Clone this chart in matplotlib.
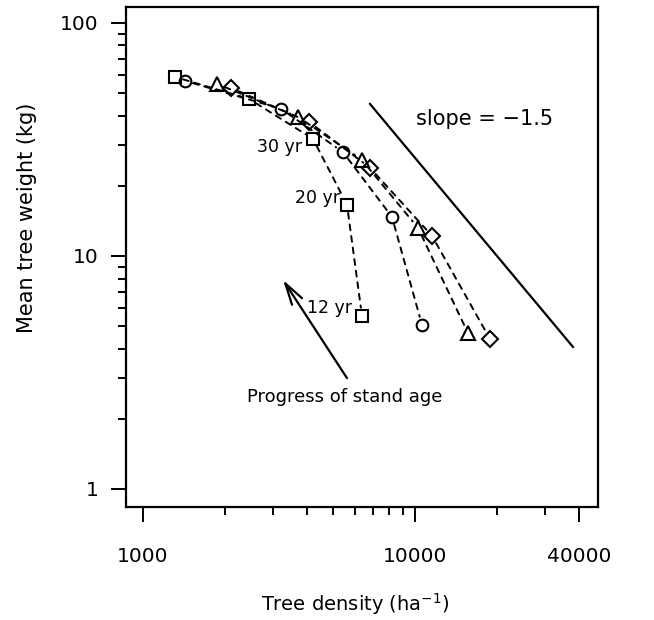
import matplotlib
matplotlib.use("Agg")
import matplotlib.pyplot as plt
from matplotlib.ticker import FixedLocator, NullFormatter

plt.rcParams['font.family'] = ['DejaVu Sans']

# stand density (ha^-1) and mean tree weight (kg) for four stands
sq_x = [1311, 2453, 4217, 5623, 6384]
sq_y = [58.6, 47.2, 31.8, 16.6, 5.53]
ci_x = [1426, 3216, 5436, 8230, 10610]
ci_y = [56.4, 42.8, 27.9, 14.7, 5.06]
tr_x = [1871, 3713, 6384, 10257, 15660]
tr_y = [54.7, 39.5, 25.8, 13.2, 4.67]
di_x = [2106, 4077, 6832, 11548, 18870]
di_y = [52.6, 37.6, 23.9, 12.2, 4.40]

# reference line (slope -1.5)
slope_x = [6832, 38100]
slope_y = [44.9, 4.07]

age_labels = ["30 yr", "20 yr", "12 yr"]
age_x = [3842, 5300, 5863]
age_y = [29.4, 17.7, 5.98]

x_major = [1000, 10000, 40000]
x_minor = [2000, 3000, 4000, 5000, 6000, 7000, 8000, 9000, 20000, 30000]
y_major = [1, 10, 100]
y_minor = [2, 3, 4, 5, 6, 7, 8, 9, 20, 30, 40, 50, 60, 70, 80, 90]

fig = plt.figure(figsize=(6.54, 6.2), dpi=100)
ax = fig.add_axes([0.1927, 0.1823, 0.7217, 0.8064])

series = [(sq_x, sq_y, 's', 8.8), (ci_x, ci_y, 'o', 8.4),
          (tr_x, tr_y, '^', 10.5), (di_x, di_y, 'D', 7.8)]
for xs, ys, m, ms in series:
    # dashed segments that stop short of the symbols (like R type="b")
    for i in range(len(xs) - 1):
        ax.annotate("", xy=(xs[i + 1], ys[i + 1]), xytext=(xs[i], ys[i]),
                    arrowprops=dict(arrowstyle='-', color='black', lw=1.4,
                                    linestyle=(0, (3, 3)), shrinkA=6, shrinkB=6))
    ax.plot(xs, ys, ls='none', marker=m, ms=ms, mfc='none', mec='black',
            mew=1.5, zorder=3)

ax.plot(slope_x, slope_y, color='black', lw=1.6)
ax.text(18080, 38.7, "slope = \u22121.5", ha='center', va='center', fontsize=15)

for lab, x, y in zip(age_labels, age_x, age_y):
    ax.text(x, y, lab, ha='right', va='center', fontsize=12.5)

ax.annotate("", xy=(3271, 7.89), xytext=(5623, 2.99),
            arrowprops=dict(arrowstyle='->,head_length=1.55,head_width=0.43',
                            color='black', lw=1.6, shrinkA=0, shrinkB=0))
ax.text(5506, 2.48, "Progress of stand age", ha='center', va='center', fontsize=13)

ax.set_xscale('log')
ax.set_yscale('log')
ax.set_xlim(866, 47100)
ax.set_ylim(0.837, 117)

ax.xaxis.set_major_locator(FixedLocator(x_major))
ax.xaxis.set_minor_locator(FixedLocator(x_minor))
ax.yaxis.set_major_locator(FixedLocator(y_major))
ax.yaxis.set_minor_locator(FixedLocator(y_minor))
ax.set_xticklabels([str(v) for v in x_major])
ax.set_yticklabels([str(v) for v in y_major])
ax.xaxis.set_minor_formatter(NullFormatter())
ax.yaxis.set_minor_formatter(NullFormatter())

ax.tick_params(which='major', direction='out', length=11, width=1.4, labelsize=14.5)
ax.tick_params(which='minor', direction='out', length=5.5, width=1.4)
ax.tick_params(axis='x', which='major', pad=18)
ax.tick_params(axis='y', which='major', pad=9)
for s in ax.spines.values():
    s.set_linewidth(1.6)

ax.set_xlabel("Tree density (ha$^{-1}$)", fontsize=14)
ax.set_ylabel("Mean tree weight (kg)", fontsize=15)
ax.xaxis.set_label_coords(0.485, -0.168)
ax.yaxis.set_label_coords(-0.189, 0.578)

fig.savefig("out.png", dpi=100)
